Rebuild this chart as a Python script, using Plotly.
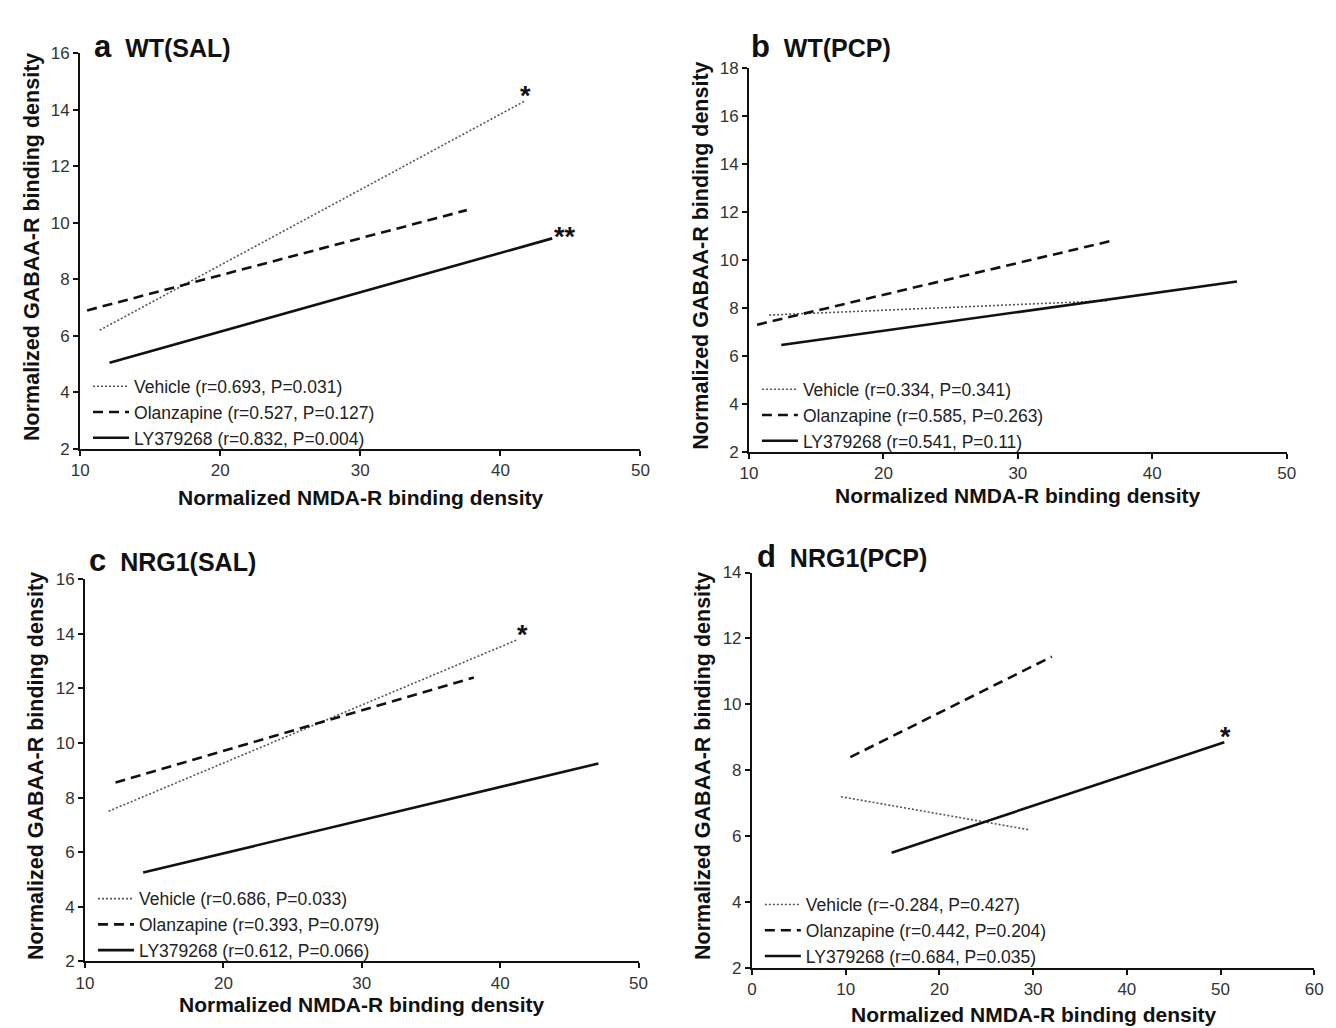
import plotly.graph_objects as go

W, H = 1336, 1028

# ---------------- data (regression line endpoints) ----------------
series_names = ["Vehicle", "Olanzapine", "LY379268"]

a_vehicle_x = [11.4, 41.7];  a_vehicle_y = [6.2, 14.3]
a_olanz_x   = [10.5, 37.6];  a_olanz_y   = [6.9, 10.45]
a_ly_x      = [12.1, 43.7];  a_ly_y      = [5.05, 9.45]
a_labels = ["Vehicle (r=0.693, P=0.031)", "Olanzapine (r=0.527, P=0.127)", "LY379268 (r=0.832, P=0.004)"]

b_vehicle_x = [11.5, 36.7];  b_vehicle_y = [7.7, 8.3]
b_olanz_x   = [10.6, 37.0];  b_olanz_y   = [7.3, 10.8]
b_ly_x      = [12.4, 46.3];  b_ly_y      = [6.45, 9.1]
b_labels = ["Vehicle (r=0.334, P=0.341)", "Olanzapine (r=0.585, P=0.263)", "LY379268 (r=0.541, P=0.11)"]

c_vehicle_x = [11.7, 41.3];  c_vehicle_y = [7.5, 13.8]
c_olanz_x   = [12.2, 38.1];  c_olanz_y   = [8.55, 12.4]
c_ly_x      = [14.2, 47.1];  c_ly_y      = [5.25, 9.25]
c_labels = ["Vehicle (r=0.686, P=0.033)", "Olanzapine (r=0.393, P=0.079)", "LY379268 (r=0.612, P=0.066)"]

d_vehicle_x = [9.5, 29.5];   d_vehicle_y = [7.2, 6.2]
d_olanz_x   = [10.5, 32.0];  d_olanz_y   = [8.4, 11.45]
d_ly_x      = [14.9, 50.4];  d_ly_y      = [5.5, 8.85]
d_labels = ["Vehicle (r=-0.284, P=0.427)", "Olanzapine (r=0.442, P=0.204)", "LY379268 (r=0.684, P=0.035)"]

# significance markers (panel, x, y, text)
sig_panel = ["a", "a", "c", "d"]
sig_x = [41.8, 44.6, 41.6, 50.5]
sig_y = [14.5, 9.5, 13.95, 9.0]
sig_text = ["*", "**", "*", "*"]

panel_titles = {"a": ("a", "WT(SAL)"), "b": ("b", "WT(PCP)"),
                "c": ("c", "NRG1(SAL)"), "d": ("d", "NRG1(PCP)")}
x_ranges = {"a": [10, 50], "b": [10, 50], "c": [10, 50], "d": [0, 60]}
y_ranges = {"a": [2, 16], "b": [2, 18], "c": [2, 16], "d": [2, 14]}
x_title = "Normalized NMDA-R binding density"
y_title = "Normalized GABAA-R binding density"

# ---------------- layout geometry (pixels: left, right, top, bottom) ----------------
boxes = {"a": (64, 632, 37, 440), "b": (742, 1287, 52, 443),
         "c": (69, 630, 573, 962), "d": (745, 1315, 566, 969)}
title_pos = {"a": (76, 30), "b": (742, 30), "c": (71, 554), "d": (748, 550)}
xtitle_gap = {"a": 50, "b": 45, "c": 44, "d": 47}
legend_top_above_axis = {"a": 82, "b": 82, "c": 82, "d": 83}

data = {
    "a": ((a_vehicle_x, a_vehicle_y), (a_olanz_x, a_olanz_y), (a_ly_x, a_ly_y), a_labels),
    "b": ((b_vehicle_x, b_vehicle_y), (b_olanz_x, b_olanz_y), (b_ly_x, b_ly_y), b_labels),
    "c": ((c_vehicle_x, c_vehicle_y), (c_olanz_x, c_olanz_y), (c_ly_x, c_ly_y), c_labels),
    "d": ((d_vehicle_x, d_vehicle_y), (d_olanz_x, d_olanz_y), (d_ly_x, d_ly_y), d_labels),
}

styles = [dict(color="#555555", width=1.6, dash="2px,2px"),
          dict(color="#111111", width=2.6, dash="10px,6px"),
          dict(color="#111111", width=2.6)]

FONT = "Liberation Sans, Arial, sans-serif"
fig = go.Figure()
layout = dict(width=W, height=H, margin=dict(l=0, r=0, t=0, b=0),
              plot_bgcolor="white", paper_bgcolor="white", showlegend=True,
              font=dict(family=FONT, color="#222222"))
annotations = []

for i, p in enumerate(["a", "b", "c", "d"]):
    suffix = "" if i == 0 else str(i + 1)
    xa, ya = "x" + suffix, "y" + suffix
    leg = "legend" + suffix
    l, r, t, b = boxes[p]
    layout["xaxis" + suffix] = dict(
        domain=[l / W, r / W], range=x_ranges[p], dtick=10, anchor=ya,
        showgrid=False, zeroline=False, showline=True, linecolor="#111111", linewidth=2,
        ticks="outside", ticklen=5, tickwidth=2, tickcolor="#111111",
        tickfont=dict(size=17, color="#333333", family=FONT))
    layout["yaxis" + suffix] = dict(
        domain=[1 - b / H, 1 - t / H], range=y_ranges[p], dtick=2, anchor=xa,
        showgrid=False, zeroline=False, showline=True, linecolor="#111111", linewidth=2,
        ticks="outside", ticklen=5, tickwidth=2, tickcolor="#111111",
        tickfont=dict(size=17, color="#333333", family=FONT))
    layout[leg] = dict(x=(l + 8) / W, y=1 - (b - legend_top_above_axis[p]) / H,
                       xanchor="left", yanchor="top", itemwidth=36,
                       bgcolor="rgba(0,0,0,0)", font=dict(size=17.5, color="#222222", family=FONT))
    lines = data[p]
    for k in range(3):
        xs, ys = lines[k]
        fig.add_trace(go.Scatter(x=xs, y=ys, mode="lines", name=lines[3][k],
                                 line=styles[k], xaxis=xa, yaxis=ya, legend=leg,
                                 hoverinfo="skip"))
    big, small = panel_titles[p]
    tx, ty = title_pos[p]
    annotations.append(dict(
        xref="paper", yref="paper", x=tx / W, y=1 - ty / H, xanchor="left", yanchor="middle",
        showarrow=False,
        text="<b><span style='font-size:31px'>" + big + "</span>&nbsp; " + small + "</b>",
        font=dict(size=25, color="#111111", family=FONT)))
    # axis titles
    annotations.append(dict(
        xref="paper", yref="paper", x=(l + r) / 2 / W, y=1 - (b + xtitle_gap[p]) / H,
        xanchor="center", yanchor="middle", showarrow=False,
        text="<b>" + x_title + "</b>", font=dict(size=21, color="#111111", family=FONT)))
    annotations.append(dict(
        xref="paper", yref="paper", x=(l - 49) / W, y=1 - ((t + b) / 2 - 4) / H,
        xanchor="center", yanchor="middle", showarrow=False, textangle=-90,
        text="<b>" + y_title + "</b>", font=dict(size=21.5, color="#111111", family=FONT)))

for p, sx, sy, st in zip(sig_panel, sig_x, sig_y, sig_text):
    suffix = {"a": "", "b": "2", "c": "3", "d": "4"}[p]
    annotations.append(dict(xref="x" + suffix, yref="y" + suffix, x=sx, y=sy, text="<b>" + st + "</b>",
                            showarrow=False, font=dict(size=27, color="#111111", family=FONT)))

layout["annotations"] = annotations
fig.update_layout(**layout)
fig.write_html("out.html")
